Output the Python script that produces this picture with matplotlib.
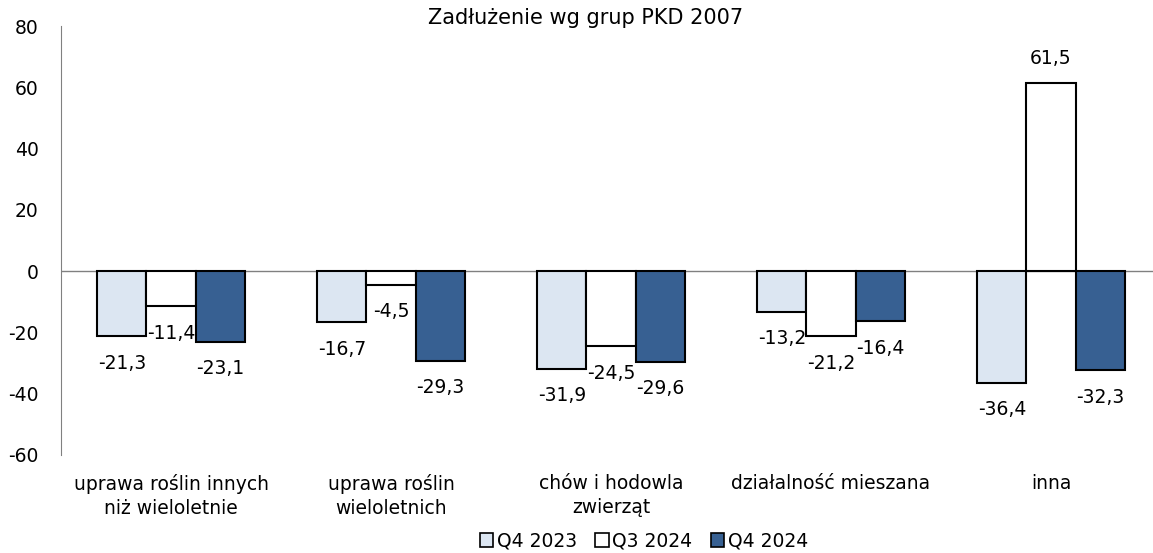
import numpy as np
import matplotlib
matplotlib.use("Agg")
import matplotlib.pyplot as plt
from matplotlib.patches import Patch

categories = ["uprawa roślin innych\nniż wieloletnie", "uprawa roślin\nwieloletnich",
              "chów i hodowla\nzwierząt", "działalność mieszana", "inna"]
series_names = ["Q4 2023", "Q3 2024", "Q4 2024"]
q4_2023 = [-21.3, -16.7, -31.9, -13.2, -36.4]
q3_2024 = [-11.4, -4.5, -24.5, -21.2, 61.5]
q4_2024 = [-23.1, -29.3, -29.6, -16.4, -32.3]
yticks = [-60, -40, -20, 0, 20, 40, 60, 80]

colors = ["#dce6f2", "#ffffff", "#376092"]
fs = 13.5

plt.rcParams['font.family'] = ['DejaVu Sans']
fig = plt.figure(figsize=(11.53, 5.53), dpi=100)
ax = fig.add_axes([61/1153, 98/553, 1100/1153, 429/553])

x = np.arange(len(categories))
w = 0.223
for i, (vals, c) in enumerate(zip([q4_2023, q3_2024, q4_2024], colors)):
    pos = x + (i - 1) * w
    ax.bar(pos, vals, w, color=c, edgecolor="black", linewidth=1.5, zorder=3)
    for px, v in zip(pos, vals):
        off = 24 if v > 0 else -27
        ax.annotate(f"{v:.1f}".replace(".", ","), (px, v), xytext=(0, off * 0.72),
                    textcoords="offset points", ha="center", va="center", fontsize=fs)

ax.axhline(0, color="#808080", linewidth=1, zorder=2)
ax.set_xlim(-0.5, len(categories) - 0.5)
ax.set_ylim(-60, 80)
ax.set_yticks(yticks)
ax.set_yticklabels([str(t) for t in yticks], fontsize=fs)
ax.set_xticks(x)
ax.set_xticklabels(categories, fontsize=fs, linespacing=1.3)
ax.tick_params(axis="y", length=0, pad=16)
ax.tick_params(axis="x", length=0, pad=14)
for s in ["top", "right", "bottom"]:
    ax.spines[s].set_visible(False)
ax.spines["left"].set_color("#808080")

fig.text(586/1153, 1 - 18/553, "Zadłużenie wg grup PKD 2007", ha="center", va="center", fontsize=15)

handles = [Patch(facecolor=c, edgecolor="black", linewidth=1.2) for c in colors]
fig.legend(handles, series_names, loc="center", bbox_to_anchor=(644/1153, 1 - 541/553), ncol=3,
           frameon=False, fontsize=fs, handlelength=0.7, handleheight=0.7,
           handletextpad=0.2, columnspacing=1.0)

fig.savefig("out.png", dpi=100)
